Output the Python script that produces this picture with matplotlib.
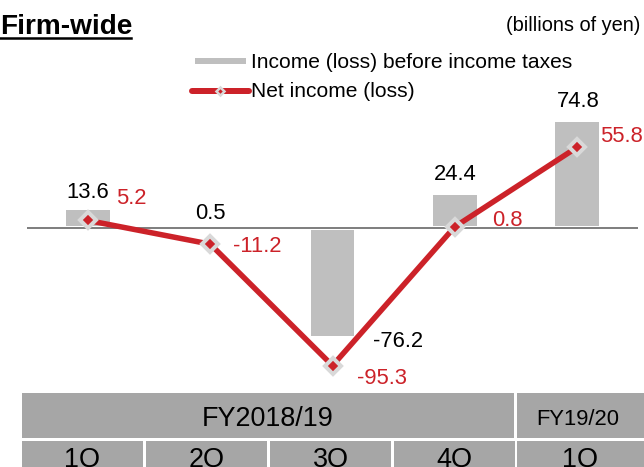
import matplotlib
matplotlib.use("Agg")
import matplotlib.pyplot as plt
from matplotlib.lines import Line2D
from matplotlib.patches import Rectangle

# ---- data ----
quarters = ["1Q", "2Q", "3Q", "4Q", "1Q"]
fiscal_years = ["FY2018/19", "FY19/20"]
pretax_income = [13.6, 0.5, -76.2, 24.4, 74.8]
net_income = [5.2, -11.2, -95.3, 0.8, 55.8]
pretax_labels = ["13.6", "0.5", "-76.2", "24.4", "74.8"]
net_labels = ["5.2", "-11.2", "-95.3", "0.8", "55.8"]
legend_labels = ["Income (loss) before income taxes", "Net income (loss)"]
title_text = "Firm-wide"
unit_text = "(billions of yen)"

# ---- style / layout ----
W, H = 644, 467
DPI = 72
BAR_C = "#BFBFBF"
RED = "#CC2229"
MK_EDGE = "#D9D9D9"
TABLE_C = "#A6A6A6"
plt.rcParams["font.family"] = ["Liberation Sans", "DejaVu Sans"]

fig = plt.figure(figsize=(W / DPI, H / DPI), dpi=DPI)


def fx(px):
    return px / W


def fy(py):
    return 1 - py / H


ax = fig.add_axes([fx(27), fy(390), fx(611), 350 / H])
x = list(range(len(quarters)))
ax.bar(x, pretax_income, width=0.39, color=BAR_C, edgecolor="white",
       linewidth=4, zorder=1)
ax.axhline(0, color="#808080", lw=2, zorder=2)
ax.plot(x, net_income, color=RED, lw=5.5, marker="D", markersize=11,
        markerfacecolor=RED, markeredgecolor=MK_EDGE, markeredgewidth=4,
        zorder=3, solid_capstyle="round")
ax.set_xlim(-0.5, 4.5)
ax.set_ylim(-162 / 1.444, 188 / 1.444)
ax.axis("off")

bar_offsets = [(0, 10), (0, 8), (66, -9), (1, 13), (1, 13)]
for xi, v, lab, off in zip(x, pretax_income, pretax_labels, bar_offsets):
    ax.annotate(lab, (xi, v), xytext=off, textcoords="offset points",
                ha="center", va="baseline", fontsize=22, color="black",
                annotation_clip=False)

net_offsets = [(43, 16.5), (47, -8.3), (50, -18.4), (53, 1), (45, 5)]
for xi, v, lab, off in zip(x, net_income, net_labels, net_offsets):
    ax.annotate(lab, (xi, v), xytext=off, textcoords="offset points",
                ha="center", va="baseline", fontsize=22, color=RED,
                annotation_clip=False)

# title & units
fig.text(fx(0), fy(34), title_text, fontsize=28, fontweight="bold",
         ha="left", va="baseline")
fig.add_artist(Line2D([fx(0), fx(131)], [fy(37.5), fy(37.5)], color="black",
                      lw=2.5, transform=fig.transFigure))
fig.text(fx(640), fy(31), unit_text, fontsize=20, ha="right", va="baseline")

# legend
fig.add_artist(Line2D([fx(198), fx(243)], [fy(61), fy(61)], color=BAR_C,
                      lw=6, transform=fig.transFigure))
fig.add_artist(Line2D([fx(192), fx(249)], [fy(91), fy(91)], color=RED,
                      lw=6, solid_capstyle="round", transform=fig.transFigure))
fig.add_artist(Line2D([fx(220)], [fy(91)], marker="D", markersize=6,
                      markerfacecolor=RED, markeredgecolor=MK_EDGE,
                      markeredgewidth=2.5, transform=fig.transFigure))
fig.text(fx(251), fy(68), legend_labels[0], fontsize=21, ha="left", va="baseline")
fig.text(fx(251), fy(97), legend_labels[1], fontsize=21, ha="left", va="baseline")

# table header
def cell(x0, x1, y0, y1):
    fig.add_artist(Rectangle((fx(x0), fy(y1)), fx(x1 - x0), (y1 - y0) / H,
                             facecolor=TABLE_C, edgecolor="none",
                             transform=fig.transFigure))

cell(22, 514, 393, 438)
cell(517, 650, 393, 438)
fig.text(fx(268), fy(426), fiscal_years[0], fontsize=27, ha="center", va="baseline")
fig.text(fx(578), fy(425), fiscal_years[1], fontsize=22, ha="center", va="baseline")

col_edges = [(22 + 124 * i, 22 + 124 * i + 121) for i in range(4)] + [(517, 650)]
for (a, b), q in zip(col_edges, quarters):
    cell(a, b, 441, 475)
    cx = (a + min(b, 644)) / 2
    fig.text(fx(cx), fy(467), q, fontsize=27, ha="center", va="baseline")

fig.savefig("out.png", dpi=DPI)
